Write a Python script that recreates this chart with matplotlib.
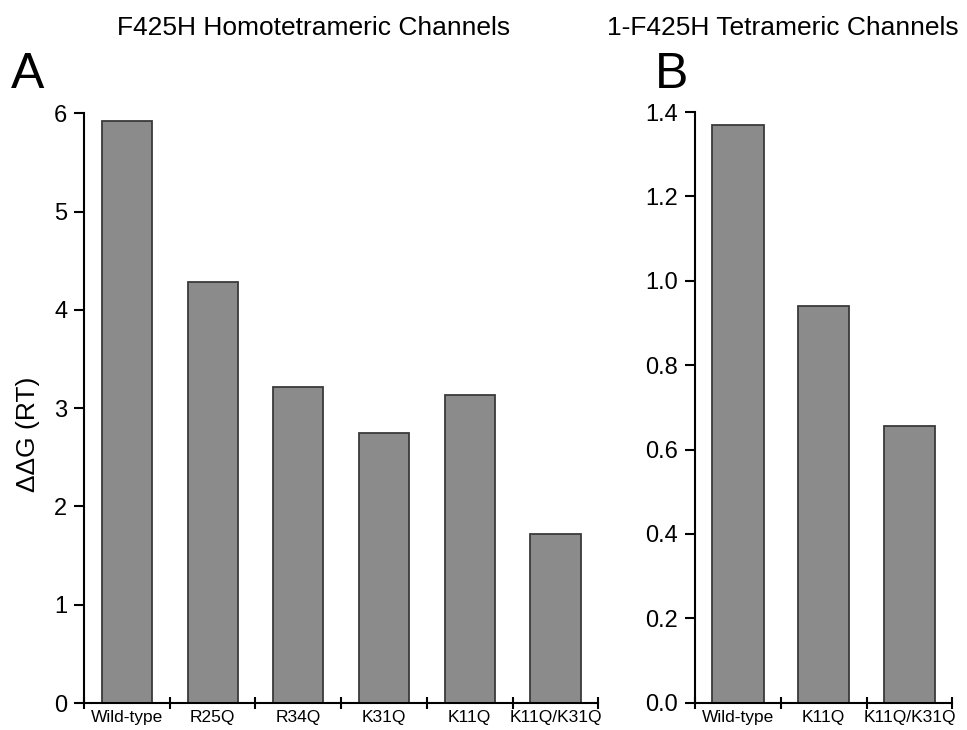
import matplotlib
matplotlib.use("Agg")
import matplotlib.pyplot as plt
from matplotlib.ticker import FixedLocator, FormatStrFormatter

plt.rcParams['font.family'] = ['Liberation Sans', 'DejaVu Sans']

# Panel A data
cats_a = ["Wild-type", "R25Q", "R34Q", "K31Q", "K11Q", "K11Q/K31Q"]
vals_a = [5.92, 4.28, 3.22, 2.75, 3.13, 1.72]
yticks_a = [0, 1, 2, 3, 4, 5, 6]

# Panel B data
cats_b = ["Wild-type", "K11Q", "K11Q/K31Q"]
vals_b = [1.37, 0.94, 0.656]
yticks_b = [0.0, 0.2, 0.4, 0.6, 0.8, 1.0, 1.2, 1.4]

title_a = "F425H Homotetrameric Channels"
title_b = "1-F425H Tetrameric Channels"
ylabel = "ΔΔG (RT)"

W, H = 967, 730
fig = plt.figure(figsize=(W / 100, H / 100), dpi=100)
fig.patch.set_facecolor("white")

bar_fc = "#8b8b8b"
bar_ec = "#3a3a3a"


def style_axes(ax, cats, vals, yticks, ylim, width, fmt):
    n = len(cats)
    x = list(range(n))
    ax.bar(x, vals, width=width, color=bar_fc, edgecolor=bar_ec, linewidth=1.3, zorder=2)
    ax.set_xlim(-0.5, n - 0.5)
    ax.set_ylim(*ylim)
    for s in ("top", "right"):
        ax.spines[s].set_visible(False)
    for s in ("left", "bottom"):
        ax.spines[s].set_linewidth(1.5)
        ax.spines[s].set_color("black")
    # major x ticks at category boundaries, labels at centres
    ax.xaxis.set_major_locator(FixedLocator([i - 0.5 for i in range(n + 1)]))
    ax.xaxis.set_minor_locator(FixedLocator(x))
    ax.set_xticklabels([""] * (n + 1))
    ax.set_xticklabels(cats, minor=True)
    ax.tick_params(axis="x", which="major", direction="inout", length=9, width=1.5)
    ax.tick_params(axis="x", which="minor", length=0, pad=5, labelsize=12.5)
    ax.set_yticks(yticks)
    ax.yaxis.set_major_formatter(FormatStrFormatter(fmt))
    ax.tick_params(axis="y", direction="out", length=7, width=1.5, pad=5, labelsize=17)
    ax.set_facecolor("white")


ax1 = fig.add_axes([84 / W, 1 - 703 / H, (598.3 - 84) / W, (703 - 113.3) / H])
style_axes(ax1, cats_a, vals_a, yticks_a, (0, 6), 0.585, "%d")

ax2 = fig.add_axes([695 / W, 1 - 702.7 / H, (952.3 - 695) / W, (702.7 - 112) / H])
style_axes(ax2, cats_b, vals_b, yticks_b, (0, 1.4), 0.6, "%.1f")

fig.text(28 / W, 1 - 434 / H, ylabel, rotation=90, ha="center", va="center", fontsize=19)

fig.text(314 / W, 1 - 28 / H, title_a, ha="center", va="center", fontsize=19)
fig.text(783 / W, 1 - 28 / H, title_b, ha="center", va="center", fontsize=19)

fig.text(28 / W, 1 - 75 / H, "A", ha="center", va="center", fontsize=36)
fig.text(672 / W, 1 - 75 / H, "B", ha="center", va="center", fontsize=36)

fig.savefig("out.png", dpi=100, facecolor="white")
